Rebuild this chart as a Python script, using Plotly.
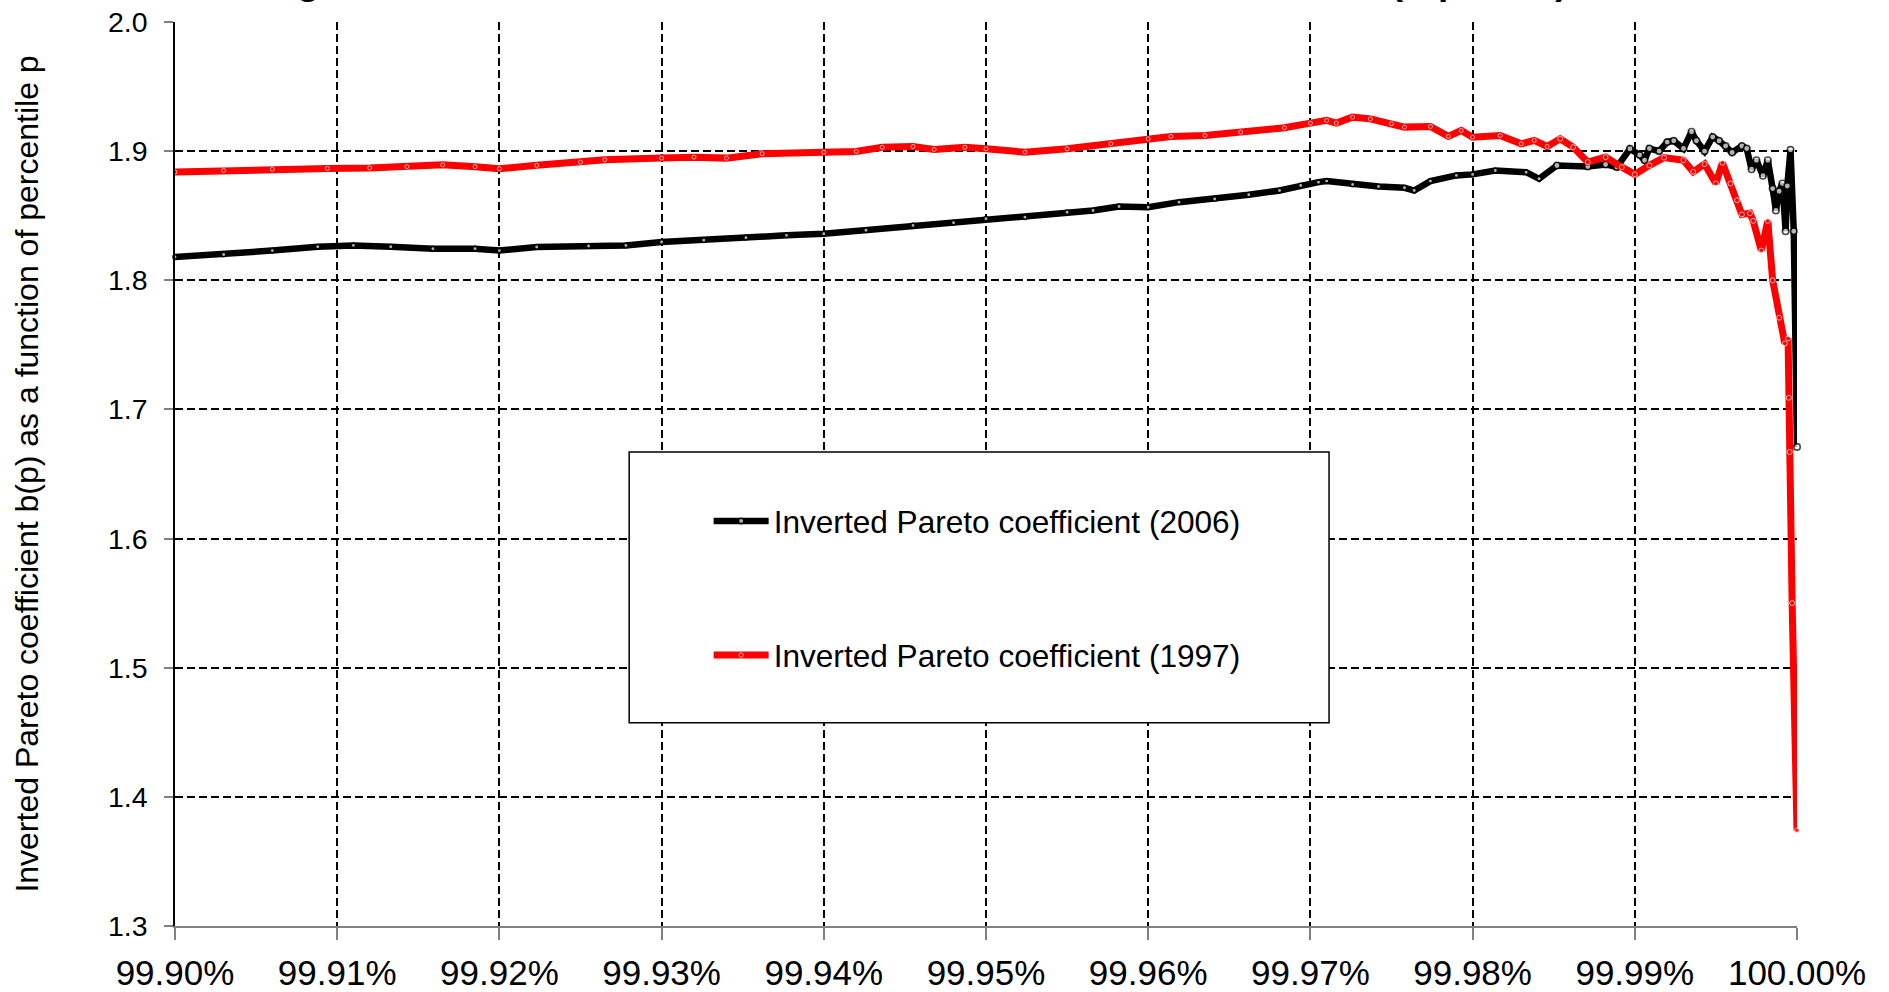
import plotly.graph_objects as go

# ---------------- data ----------------
p_2006 = [99.900, 99.903, 99.906, 99.9088, 99.911, 99.9133, 99.9159, 99.9185, 99.920, 99.9223,
          99.9255, 99.9278, 99.930, 99.9326, 99.9352, 99.9377, 99.940, 99.9426, 99.9455, 99.948,
          99.950, 99.9524, 99.955, 99.9566, 99.9582, 99.960, 99.9619, 99.9641, 99.9662, 99.9681,
          99.9694, 99.9705, 99.971, 99.9726, 99.9742, 99.9758, 99.9764, 99.9774, 99.979, 99.980,
          99.9814, 99.9833, 99.9841, 99.9852, 99.9871, 99.9882, 99.9889, 99.9897, 99.9903, 99.9906,
          99.9909, 99.9915, 99.9920, 99.9924, 99.9930, 99.9935, 99.9938, 99.9943, 99.9948, 99.9952,
          99.9956, 99.9960, 99.9966, 99.9969, 99.9972, 99.9975, 99.9979, 99.9982, 99.9985, 99.9987,
          99.9989, 99.9991, 99.9993, 99.9994, 99.9996, 99.9998, 100.000]
b_2006 = [1.818, 1.820, 1.823, 1.826, 1.827, 1.826, 1.8245, 1.8245, 1.823, 1.8258,
          1.8265, 1.827, 1.8297, 1.831, 1.833, 1.8348, 1.836, 1.8387, 1.8425, 1.8445,
          1.8476, 1.8489, 1.8527, 1.854, 1.8571, 1.8566, 1.8605, 1.863, 1.8662, 1.8695,
          1.8734, 1.876, 1.8768, 1.8742, 1.8726, 1.8716, 1.8695, 1.8768, 1.8812, 1.882,
          1.885, 1.8837, 1.8786, 1.8889, 1.8881, 1.8897, 1.8876, 1.9018, 1.897, 1.893,
          1.902, 1.900, 1.907, 1.908, 1.902, 1.915, 1.908, 1.900, 1.911, 1.908,
          1.904, 1.899, 1.904, 1.902, 1.886, 1.893, 1.881, 1.893, 1.871, 1.854,
          1.869, 1.875, 1.838, 1.873, 1.901, 1.838, 1.671]

p_1997 = [99.900, 99.903, 99.906, 99.9094, 99.912, 99.9143, 99.9165, 99.9185, 99.920, 99.9223,
          99.925, 99.9265, 99.930, 99.932, 99.934, 99.9362, 99.940, 99.942, 99.9436, 99.9455,
          99.9468, 99.9487, 99.950, 99.9524, 99.955, 99.9577, 99.960, 99.9614, 99.9635, 99.9657,
          99.9684, 99.970, 99.971, 99.9716, 99.9726, 99.9737, 99.975, 99.9758, 99.9774, 99.9785,
          99.9793, 99.980, 99.9817, 99.983, 99.9838, 99.9846, 99.9854, 99.9862, 99.9871, 99.9882,
          99.9892, 99.990, 99.9909, 99.9918, 99.9930, 99.9936, 99.9943, 99.9950, 99.9954, 99.9959,
          99.9963, 99.9966, 99.9971, 99.9973, 99.9978, 99.9982, 99.9985, 99.9989, 99.99925, 99.99945,
          99.9995, 99.99955, 99.9997, 100.000]
b_1997 = [1.8838, 1.885, 1.886, 1.8866, 1.887, 1.888, 1.8894, 1.888, 1.8864, 1.889,
          1.8915, 1.8933, 1.8946, 1.8953, 1.8946, 1.898, 1.8992, 1.8997, 1.903, 1.9036,
          1.9013, 1.903, 1.9018, 1.8992, 1.9018, 1.9057, 1.9096, 1.9114, 1.9121, 1.9147,
          1.9181, 1.9217, 1.9238, 1.9217, 1.9263, 1.925, 1.9212, 1.9186, 1.9191, 1.9114,
          1.916, 1.9108, 1.9121, 1.9057, 1.9083, 1.9036, 1.9096, 1.9031, 1.8915, 1.8954,
          1.8876, 1.882, 1.889, 1.895, 1.893, 1.884, 1.890, 1.875, 1.891, 1.875,
          1.862, 1.851, 1.852, 1.846, 1.823, 1.846, 1.800, 1.771, 1.751, 1.755,
          1.709, 1.667, 1.550, 1.374]

x_tick_vals = [99.90, 99.91, 99.92, 99.93, 99.94, 99.95, 99.96, 99.97, 99.98, 99.99, 100.00]
x_tick_text = ["99.90%", "99.91%", "99.92%", "99.93%", "99.94%", "99.95%",
               "99.96%", "99.97%", "99.98%", "99.99%", "100.00%"]
y_tick_vals = [1.3, 1.4, 1.5, 1.6, 1.7, 1.8, 1.9, 2.0]

name_2006 = "Inverted Pareto coefficient (2006)"
name_1997 = "Inverted Pareto coefficient (1997)"
title_text = "Figure 12: Inverted Pareto coefficients in the US: 1997 and 2006 (top 0.1%)"
y_title = "Inverted Pareto coefficient b(p) as a function of percentile p"

FONT = "Liberation Sans, Arial, sans-serif"

# marker sizes: small where points are dense, larger in the sparse top tail
size_2006 = [6.5 if p >= 99.985 else 4.5 for p in p_2006]
size_1997 = [5 if p >= 99.985 else 4 for p in p_1997]

fig = go.Figure()
fig.add_trace(go.Scatter(
    x=p_2006, y=b_2006, mode="lines+markers", name=name_2006,
    line=dict(color="black", width=6.5),
    marker=dict(symbol="circle", size=size_2006, color="white", line=dict(color="black", width=1.6)),
    cliponaxis=False, legendgroup="a",
))
fig.add_trace(go.Scatter(
    x=p_1997, y=b_1997, mode="lines+markers", name=name_1997,
    line=dict(color="#FF0000", width=7),
    marker=dict(symbol="circle", size=size_1997, color="#FF0000"),
    cliponaxis=False, legendgroup="b",
))

grid = dict(showgrid=True, gridcolor="black", gridwidth=2, griddash="8px,4px")

fig.update_layout(
    width=1889, height=992,
    margin=dict(l=175, r=92, t=22, b=66),
    paper_bgcolor="white", plot_bgcolor="white",
    font=dict(family=FONT, size=32, color="black"),
    showlegend=True,
    legend=dict(x=0.329, y=0.478, xanchor="left", yanchor="top",
                bgcolor="rgba(0,0,0,0)", borderwidth=0,
                font=dict(family=FONT, size=31.6, color="black"),
                traceorder="grouped", tracegroupgap=90, itemwidth=55),
    xaxis=dict(range=[99.9, 100.0], tickvals=x_tick_vals, ticktext=x_tick_text,
               ticks="outside", ticklen=12, tickwidth=1.5, tickcolor="#808080",
               showline=True, linecolor="#808080", linewidth=1.5, automargin=False,
               ticklabeloverflow="allow",
               zeroline=False, tickfont=dict(size=35), ticklabelstandoff=3, **grid),
    yaxis=dict(range=[1.3, 2.0], tickvals=y_tick_vals, tickformat=".1f",
               ticks="outside", ticklen=9, tickwidth=1.5, tickcolor="#808080",
               showline=True, linecolor="black", linewidth=1.5, automargin=False,
               ticklabeloverflow="allow",
               zeroline=False, tickfont=dict(size=28.5), ticklabelstandoff=11,
               title=dict(text=y_title, font=dict(size=32), standoff=60), **grid),
    shapes=[dict(type="rect", xref="paper", yref="paper",
                 x0=0.280, x1=0.7115, y0=0.2249, y1=0.5244,
                 fillcolor="white", line=dict(color="black", width=1.5), layer="above")],
    annotations=[dict(text="<b>" + title_text + "</b>", xref="paper", yref="paper",
                      x=0.4567, y=1.0, xanchor="center", yanchor="bottom", yshift=18,
                      showarrow=False, font=dict(family=FONT, size=37, color="black"))],
)

fig.write_html("out.html", config={"displayModeBar": False},
               post_script="document.body.style.margin='0px';")
